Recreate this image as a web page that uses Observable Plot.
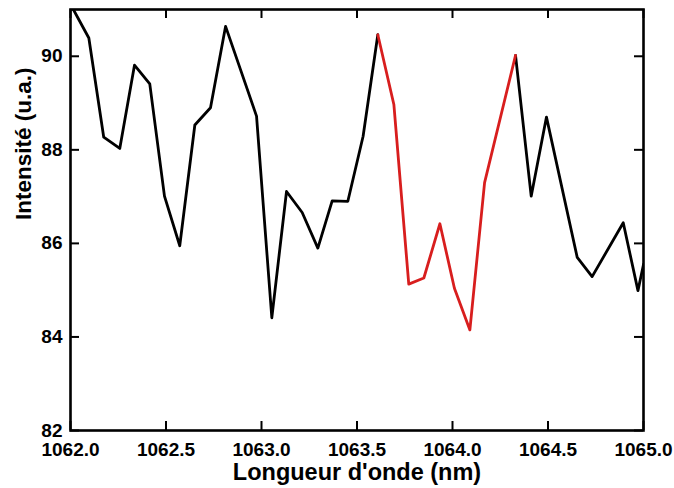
<!DOCTYPE html>
<html>
<head>
<meta charset="utf-8">
<script src="https://cdn.jsdelivr.net/npm/d3@7"></script>
<script src="https://cdn.jsdelivr.net/npm/@observablehq/plot@0.6"></script>
<style>
  html, body { margin: 0; padding: 0; background: #fff; }
  #chart { width: 674px; height: 488px; }
</style>
</head>
<body>
<div id="chart"></div>
<script>
// Wavelength (nm) and intensity (u.a.)
const wavelength = [1062.015, 1062.096, 1062.174, 1062.258, 1062.335, 1062.415, 1062.492, 1062.572,
  1062.651, 1062.733, 1062.812, 1062.974, 1063.054, 1063.131, 1063.213, 1063.295, 1063.370,
  1063.452, 1063.532, 1063.609, 1063.693, 1063.771, 1063.850, 1063.934, 1064.010, 1064.091,
  1064.168, 1064.330, 1064.412, 1064.492, 1064.653, 1064.731, 1064.894, 1064.971, 1065.000];
const intensity = [91.0, 90.39, 88.27, 88.03, 89.81, 89.41, 87.01, 85.95,
  88.53, 88.90, 90.64, 88.72, 84.41, 87.11, 86.66, 85.90, 86.91,
  86.90, 88.29, 90.46, 88.97, 85.13, 85.26, 86.42, 85.04, 84.15,
  87.30, 90.02, 87.01, 88.70, 85.70, 85.29, 86.44, 84.99, 85.55];
// highlighted (red) wavelength range
const highlightStart = 1063.609;
const highlightEnd = 1064.330;

const xTicks = [1062.0, 1062.5, 1063.0, 1063.5, 1064.0, 1064.5, 1065.0];
const yTicks = [82, 84, 86, 88, 90];
const xTitle = "Longueur d'onde (nm)";
const yTitle = "Intensité (u.a.)";

const points = wavelength.map((w, i) => ({w, v: intensity[i]}));
const before = points.filter(d => d.w <= highlightStart).map(d => ({...d, seg: "a"}));
const red = points.filter(d => d.w >= highlightStart && d.w <= highlightEnd);
const after = points.filter(d => d.w >= highlightEnd).map(d => ({...d, seg: "b"}));
const black = before.concat(after);

const chart = Plot.plot({
  width: 674,
  height: 488,
  marginLeft: 70,
  marginRight: 31,
  marginTop: 9,
  marginBottom: 58,
  style: {
    fontFamily: "'Liberation Sans', Arial, sans-serif",
    fontWeight: "bold",
    fontSize: "19px",
    color: "#000",
    background: "#fff",
    overflow: "visible"
  },
  x: {domain: [1062, 1065]},
  y: {domain: [82, 91]},
  marks: [
    Plot.axisX(xTicks, {tickSize: 0, tickPadding: 12, tickFormat: d => d.toFixed(1), label: null, fontSize: 19}),
    Plot.axisY(yTicks, {tickSize: 0, tickPadding: 8, label: null, fontSize: 19}),
    Plot.tickX(xTicks, {x: d => d, insetTop: 412, strokeWidth: 2}),
    Plot.tickX(xTicks, {x: d => d, insetBottom: 412, strokeWidth: 2}),
    Plot.tickY(yTicks, {y: d => d, insetRight: 564, strokeWidth: 2}),
    Plot.tickY(yTicks, {y: d => d, insetLeft: 564, strokeWidth: 2}),
    Plot.line(black, {x: "w", y: "v", z: "seg", stroke: "#000", strokeWidth: 2.8, clip: true}),
    Plot.line(red, {x: "w", y: "v", stroke: "#d81e1e", strokeWidth: 2.8, clip: true}),
    Plot.frame({stroke: "#000", strokeWidth: 2.6}),
    Plot.text([xTitle], {frameAnchor: "bottom", dy: 42, text: d => d, fontSize: 23.5, fontWeight: "bold", lineAnchor: "middle"}),
    Plot.text([yTitle], {frameAnchor: "left", dx: -47, rotate: -90, text: d => d, fontSize: 22.5, fontWeight: "bold", lineAnchor: "middle"})
  ]
});
document.getElementById("chart").appendChild(chart);
</script>
</body>
</html>
